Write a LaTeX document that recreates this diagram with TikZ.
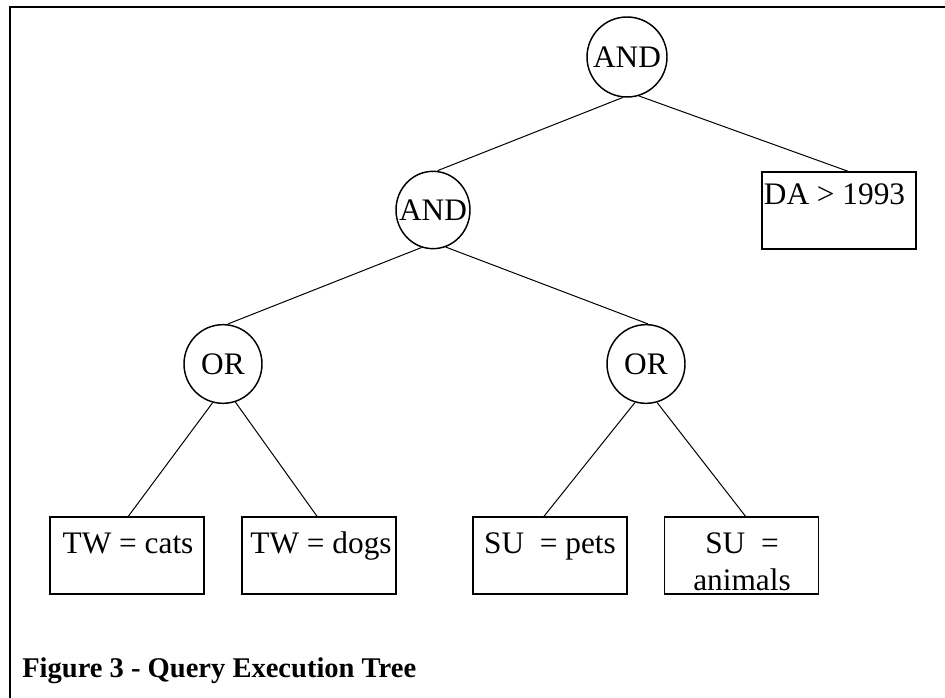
\documentclass[tikz,border=0pt]{standalone}
\usepackage{fontspec}
\setmainfont{Liberation Serif}
\usetikzlibrary{shapes.geometric}
\begin{document}
\begin{tikzpicture}[x=0.75pt,y=-0.75pt,
  opnode/.style={draw, ellipse, line width=1.1pt, minimum width=58.5pt, minimum height=59pt, inner sep=0pt,
    font=\fontsize{23.5}{28}\selectfont},
  leafbox/.style={draw, rectangle, line width=1.1pt, minimum width=115.5pt, minimum height=57.75pt, inner sep=0pt},
  leaftext/.style={anchor=base, align=center, inner sep=0pt, font=\fontsize{23.5}{27.75}\selectfont},
  edge/.style={line width=0.75pt},
  frame/.style={line width=1.8pt}]
\useasboundingbox (0,0) rectangle (945,698);
% frame
\coordinate (fc) at (10,7);
\coordinate (fr) at (945,7);
\coordinate (fb) at (10,698);
\draw[frame] (fb) -- (fc) -- (fr);
% operator nodes
\node[opnode, minimum width=60pt, minimum height=60pt] (a1) at (627,57) {\makebox[0pt]{AND}};
\node[opnode, minimum width=55.5pt, minimum height=58pt] (a2) at (433,210) {\makebox[0pt]{AND}};
\node[opnode] (o1) at (223,364) {\makebox[0pt]{OR}};
\node[opnode] (o2) at (646,364) {\makebox[0pt]{OR}};
% leaf boxes
\node[leafbox] (da) at (839,210.5) {};
\node[leafbox] (b1) at (127,555.5) {};
\node[leafbox] (b2) at (319,555.5) {};
\node[leafbox] (b3) at (550,555.5) {};
\node[leafbox] (b4) at (741.5,555.5) {};
% leaf texts
\node[leaftext] (tda) at (834.5,205) {DA > 1993};
\node[leaftext] (t1) at (128,553) {TW = cats};
\node[leaftext] (t2) at (321,553) {TW = dogs};
\node[leaftext] (t3) at (550,553) {SU\ \ = pets};
\node[leaftext] (t4) at (742,590) {SU\ \ =\\animals};
% connectors
\draw[edge] (a1.-96) -- ([xshift=3.5pt]a2.north);
\draw[edge] (a1.-73) -- ([xshift=6.75pt]da.north);
\draw[edge] (a2.-107) -- ([xshift=3.75pt]o1.north);
\draw[edge] (a2.-71) -- ([xshift=1.5pt]o2.north);
\draw[edge] (o1.-105) -- ([xshift=1pt]b1.north);
\draw[edge] (o1.-72) -- ([xshift=-1.5pt]b2.north);
\draw[edge] (o2.-106) -- ([xshift=-4.5pt]b3.north);
\draw[edge] (o2.-74) -- ([xshift=3pt]b4.north);
% caption
\node[anchor=base west, inner sep=0pt, font=\bfseries\fontsize{21.4}{25}\selectfont] (cap) at (22,677) {Figure 3 - Query Execution Tree};
\end{tikzpicture}
\end{document}
